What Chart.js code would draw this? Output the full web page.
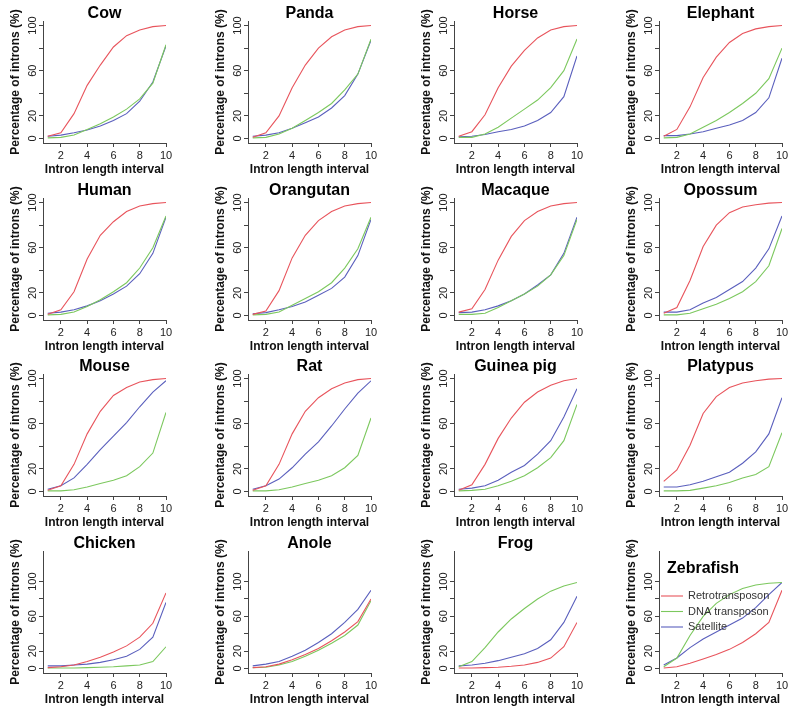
<!DOCTYPE html>
<html>
<head>
<meta charset="utf-8">
<script src="https://cdn.jsdelivr.net/npm/chart.js@4.4.0/dist/chart.umd.min.js"></script>
<style>
    html, body { margin: 0; padding: 0; background: #fff; width: 797px; height: 713px; overflow: hidden; position: relative; }
    canvas.panel { position: absolute; }
</style>
</head>
<body>
<script>
// Panels, in reading order
const species = ['Cow', 'Panda', 'Horse', 'Elephant',
                 'Human', 'Orangutan', 'Macaque', 'Opossum',
                 'Mouse', 'Rat', 'Guinea pig', 'Platypus',
                 'Chicken', 'Anole', 'Frog', 'Zebrafish'];

const intervals = [1, 2, 3, 4, 5, 6, 7, 8, 9, 10];
const xTickValues = [2, 4, 6, 8, 10];
const yTickValues = [0, 20, 40, 60, 80, 100];
const yTickLabels = ['0', '20', '', '60', '', '100'];

const seriesNames = ['Retrotransposon', 'DNA transposon', 'Satellite'];
const seriesColors = ['#e8545c', '#7cc85e', '#5a5fbd'];

// cumulative percentage of introns, one row per species
const retroValues = [
    [2, 5, 22, 47, 65, 81, 91, 96, 99, 100],
    [1, 5, 20, 45, 65, 80, 90, 96, 99, 100],
    [2, 6, 21, 45, 64, 78, 89, 96, 99, 100],
    [2, 8, 28, 54, 72, 85, 93, 97, 99, 100],
    [1, 5, 21, 50, 71, 83, 92, 97, 99, 100],
    [1, 4, 22, 51, 71, 84, 92, 97, 99, 100],
    [3, 6, 23, 49, 70, 84, 92, 97, 99, 100],
    [2, 7, 31, 61, 80, 91, 96, 98, 99.5, 100],
    [1, 5, 24, 51, 71, 85, 92, 97, 99, 100],
    [1, 5, 24, 51, 71, 83, 91, 96, 99, 100],
    [1, 6, 24, 47, 65, 79, 88, 94, 98, 100],
    [9, 19, 41, 69, 84, 92, 96, 98, 99.5, 100],
    [1, 2, 4, 8, 13, 19, 26, 36, 52, 87],
    [1, 2, 5, 10, 16, 23, 32, 42, 54, 80],
    [0.5, 0.5, 1, 1.5, 2.5, 4, 7, 12, 25, 53],
    [0.5, 2, 6, 11, 16, 22, 30, 40, 53, 90]
];

const dnaValues = [
    [0.5, 1, 3, 8, 13, 19, 26, 35, 49, 83],
    [0.5, 1, 4, 9, 16, 23, 31, 43, 57, 88],
    [1, 1, 4, 10, 18, 26, 34, 45, 60, 88],
    [0.5, 1, 4, 10, 16, 23, 31, 40, 53, 80],
    [0.5, 1, 3, 8, 14, 21, 29, 42, 60, 88],
    [0.5, 1, 3, 9, 15, 21, 29, 42, 59, 87],
    [1, 1, 2, 7, 13, 19, 26, 36, 53, 85],
    [0.5, 0.5, 2, 6, 10, 15, 21, 30, 44, 77],
    [0.5, 0.5, 1.5, 4, 7, 10, 14, 22, 34, 70],
    [0.5, 0.5, 1.5, 4, 7, 10, 14, 21, 32, 65],
    [0.5, 1, 2, 5, 9, 14, 21, 30, 45, 77],
    [0.5, 0.5, 1, 3, 5, 8, 12, 15, 22, 52],
    [0.5, 0.5, 0.5, 1, 1.5, 2, 3, 4, 8, 25],
    [1, 1.5, 4, 8, 14, 21, 29, 38, 50, 78],
    [2, 8, 24, 42, 57, 69, 80, 89, 95, 99],
    [2, 12, 38, 60, 75, 85, 92, 96, 98, 99]
];

const satelliteValues = [
    [2, 3, 5, 7.5, 11, 16, 22, 33, 50, 82],
    [2, 3, 5, 9, 14, 19, 27, 38, 57, 87],
    [1.5, 2, 3.5, 6, 8, 11, 16, 23, 37, 73],
    [2.5, 2.5, 4, 6, 9, 12, 16, 23, 36, 71],
    [2, 3, 5, 8.5, 13, 19, 26, 37, 55, 87],
    [1.5, 2.5, 5, 8, 12, 18, 24, 34, 53, 85],
    [2.5, 3, 5, 8.5, 13, 19, 27, 36, 55, 87],
    [3, 3, 5, 11, 16, 23, 30, 42, 59, 88],
    [2, 5, 12, 24, 37, 49, 61, 75, 88, 98],
    [2, 5, 11, 21, 33, 44, 58, 73, 87, 98],
    [2, 3, 5, 10, 17, 23, 33, 45, 66, 91],
    [4, 4, 6, 9, 13, 17, 25, 35, 51, 83],
    [3, 3, 4, 5, 7, 10, 14, 22, 36, 76],
    [3, 5, 8, 14, 21, 30, 40, 53, 68, 90],
    [3, 4, 6, 9, 13, 17, 23, 33, 53, 83],
    [4, 12, 24, 34, 42, 50, 58, 70, 85, 99]
];

Chart.defaults.font.family = '"Liberation Sans", Arial, Helvetica, sans-serif';
Chart.defaults.color = '#222';

const FONT = '"Liberation Sans", Arial, sans-serif';

// Bold panel title, centred over the plot area (or placed inside it for the legend panel)
const panelTitle = {
    id: 'panelTitle',
    afterDraw(chart, args, opts) {
        const { ctx, chartArea } = chart;
        ctx.save();
        ctx.font = 'bold 16px ' + FONT;
        ctx.fillStyle = '#000';
        ctx.textBaseline = 'middle';
        if (opts.inside) {
            ctx.textAlign = 'left';
            ctx.fillText(opts.text, chartArea.left + opts.dx, opts.y);
        } else {
            ctx.textAlign = 'center';
            ctx.fillText(opts.text, (chartArea.left + chartArea.right) / 2, opts.y);
        }
        ctx.restore();
    }
};

// Small line legend drawn in the top-left corner of the plot area
const insideLegend = {
    id: 'insideLegend',
    afterDraw(chart, args, opts) {
        if (!opts.show) return;
        const { ctx, chartArea } = chart;
        ctx.save();
        ctx.font = '11px ' + FONT;
        ctx.textBaseline = 'middle';
        ctx.textAlign = 'left';
        chart.data.datasets.forEach((ds, k) => {
            const y = opts.top + k * opts.step;
            const x0 = chartArea.left + opts.dx;
            ctx.strokeStyle = ds.borderColor;
            ctx.lineWidth = 1.1;
            ctx.beginPath();
            ctx.moveTo(x0, y);
            ctx.lineTo(x0 + opts.lineLen, y);
            ctx.stroke();
            ctx.fillStyle = '#333';
            ctx.fillText(ds.label, x0 + opts.lineLen + 5, y);
        });
        ctx.restore();
    }
};

const PANEL_W = 205, PANEL_H = 177;
const AXIS_LEFT = 49, PLOT_W = 123, PLOT_TOP = 21, PLOT_BOTTOM = 143;

species.forEach((name, i) => {
    const col = i % 4, row = Math.floor(i / 4);
    const canvas = document.createElement('canvas');
    canvas.className = 'panel';
    canvas.width = PANEL_W;
    canvas.height = PANEL_H;
    canvas.style.left = Math.round(col * 205.3 - 6) + 'px';
    canvas.style.top = Math.round(row * 176.5) + 'px';
    document.body.appendChild(canvas);

    const withLegend = name === 'Zebrafish';
    // the bottom row leaves extra head room above 100
    const yMin = row === 3 ? -5.2 : -4;
    const yMax = row === 3 ? 135.2 : 104;
    const rows = [retroValues[i], dnaValues[i], satelliteValues[i]];
    const datasets = seriesNames.map((label, k) => ({
        label: label,
        data: intervals.map((x, j) => ({ x: x, y: rows[k][j] })),
        borderColor: seriesColors[k],
        backgroundColor: seriesColors[k],
        borderWidth: 1.1,
        pointRadius: 0,
        tension: 0,
        fill: false
    }));

    new Chart(canvas.getContext('2d'), {
        type: 'line',
        data: { datasets: datasets },
        plugins: [panelTitle, insideLegend],
        options: {
            responsive: false,
            animation: false,
            devicePixelRatio: 1,
            layout: { padding: { top: PLOT_TOP, right: PANEL_W - AXIS_LEFT - PLOT_W, left: 0, bottom: 0 } },
            plugins: {
                tooltip: { enabled: false },
                legend: { display: false },
                panelTitle: withLegend ? { text: name, inside: true, dx: 8, y: 39 } : { text: name, y: 14 },
                insideLegend: { show: withLegend, top: 66, step: 15.5, dx: 2, lineLen: 22 }
            },
            scales: {
                x: {
                    type: 'linear',
                    min: 0.64,
                    max: 10,
                    afterBuildTicks: s => { s.ticks = xTickValues.map(v => ({ value: v })); },
                    afterFit: s => { s.height = PANEL_H - PLOT_BOTTOM; },
                    grid: { drawOnChartArea: false, tickLength: 4, color: '#444' },
                    border: { color: '#444' },
                    ticks: { font: { size: 11 }, color: '#222', padding: 2, maxRotation: 0, autoSkip: false, callback: v => String(v) },
                    title: { display: true, text: 'Intron length interval', font: { size: 12, weight: 'bold' }, color: '#111', padding: 0 }
                },
                y: {
                    type: 'linear',
                    min: yMin,
                    max: yMax,
                    afterBuildTicks: s => { s.ticks = yTickValues.map(v => ({ value: v })); },
                    afterFit: s => { s.width = AXIS_LEFT; },
                    grid: { drawOnChartArea: false, tickLength: 4, color: '#444' },
                    border: { color: '#444' },
                    ticks: {
                        font: { size: 11 }, color: '#222', padding: -3,
                        minRotation: 90, maxRotation: 90, crossAlign: 'center', autoSkip: false,
                        callback: v => yTickLabels[yTickValues.indexOf(v)]
                    },
                    title: { display: true, text: 'Percentage of introns (%)', font: { size: 12, weight: 'bold' }, color: '#111', padding: { top: 14, bottom: 0 } }
                }
            }
        }
    });
});
</script>
</body>
</html>
